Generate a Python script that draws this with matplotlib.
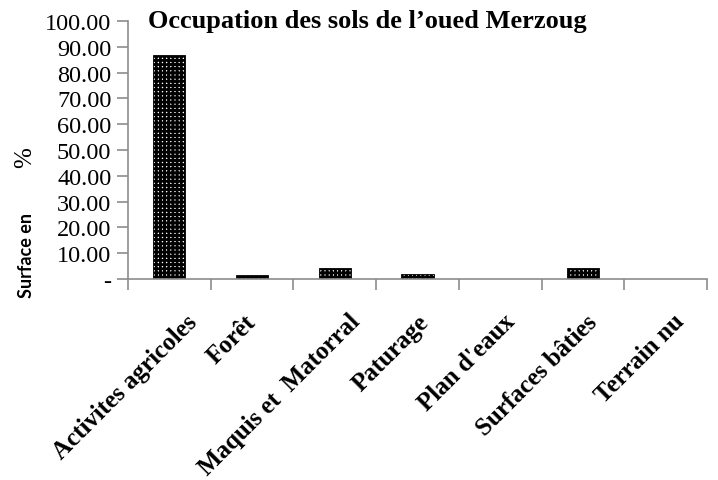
import matplotlib
matplotlib.use("Agg")
import matplotlib.pyplot as plt
import matplotlib.transforms as mtransforms
import numpy as np

# donnees
categories = ["Activites agricoles", "Forêt", "Maquis et  Matorral", "Paturage",
              "Plan d'eaux", "Surfaces bâties", "Terrain nu"]
surfaces = [86.7, 1.5, 4.2, 2.1, 0.0, 4.4, 0.0]
yticks = [0, 10, 20, 30, 40, 50, 60, 70, 80, 90, 100]
ytick_labels = ["-" if v == 0 else f"{v:.2f}" for v in yticks]

plt.rcParams["hatch.linewidth"] = 2.0
grey = "#8c8c8c"
serif = "Liberation Serif"

fig = plt.figure(figsize=(7.18, 4.81), dpi=100)
ax = fig.add_axes([128 / 718, 1 - 280 / 481, (707 - 128) / 718, (280 - 22) / 481])

x = np.arange(len(categories))
ax.bar(x, surfaces, width=0.39, color="white", edgecolor="black",
       hatch="++++", linewidth=0.6)

ax.set_xlim(-0.5, len(categories) - 0.5)
ax.set_ylim(0, 100)

for s in ["top", "right"]:
    ax.spines[s].set_visible(False)
for s in ["left", "bottom"]:
    ax.spines[s].set_color(grey)
    ax.spines[s].set_linewidth(1.2)

ax.set_yticks(yticks)
ax.set_yticklabels(ytick_labels, fontfamily=serif, fontsize=17.5)
ax.tick_params(axis="y", length=8, width=1.2, color=grey, pad=4)

# graduations entre les categories, etiquettes au centre
ax.set_xticks(np.arange(len(categories) + 1) - 0.5)
ax.set_xticklabels([])
ax.tick_params(axis="x", which="major", length=8, width=1.2, color=grey)
ax.set_xticks(x, minor=True)
ax.set_xticklabels(categories, minor=True, rotation=45, ha="right", va="top",
                   rotation_mode="anchor", fontfamily=serif, fontweight="bold",
                   fontsize=18)
ax.tick_params(axis="x", which="minor", length=0, pad=22)
# decalage horizontal de chaque etiquette (en pixels)
shifts = [16, -8, 13, 0, 3, 3, 7]
for lab, dx in zip(ax.get_xticklabels(minor=True), shifts):
    tr = mtransforms.ScaledTranslation(dx / 100, 0, fig.dpi_scale_trans)
    lab.set_transform(lab.get_transform() + tr)

fig.text(367 / 718, 1 - 28 / 481, "Occupation des sols de l\u2019oued Merzoug",
         ha="center", va="baseline", fontfamily=serif, fontweight="bold",
         fontsize=19)

fig.text(26 / 718, 1 - 256 / 481, "Surface en", rotation=90, ha="center",
         va="center", fontfamily="Lato", fontweight="bold", fontsize=13)
fig.text(25 / 718, 1 - 158 / 481, "%", rotation=90, ha="center", va="center",
         fontfamily=serif, fontsize=18)

fig.savefig("out.png", dpi=100)
